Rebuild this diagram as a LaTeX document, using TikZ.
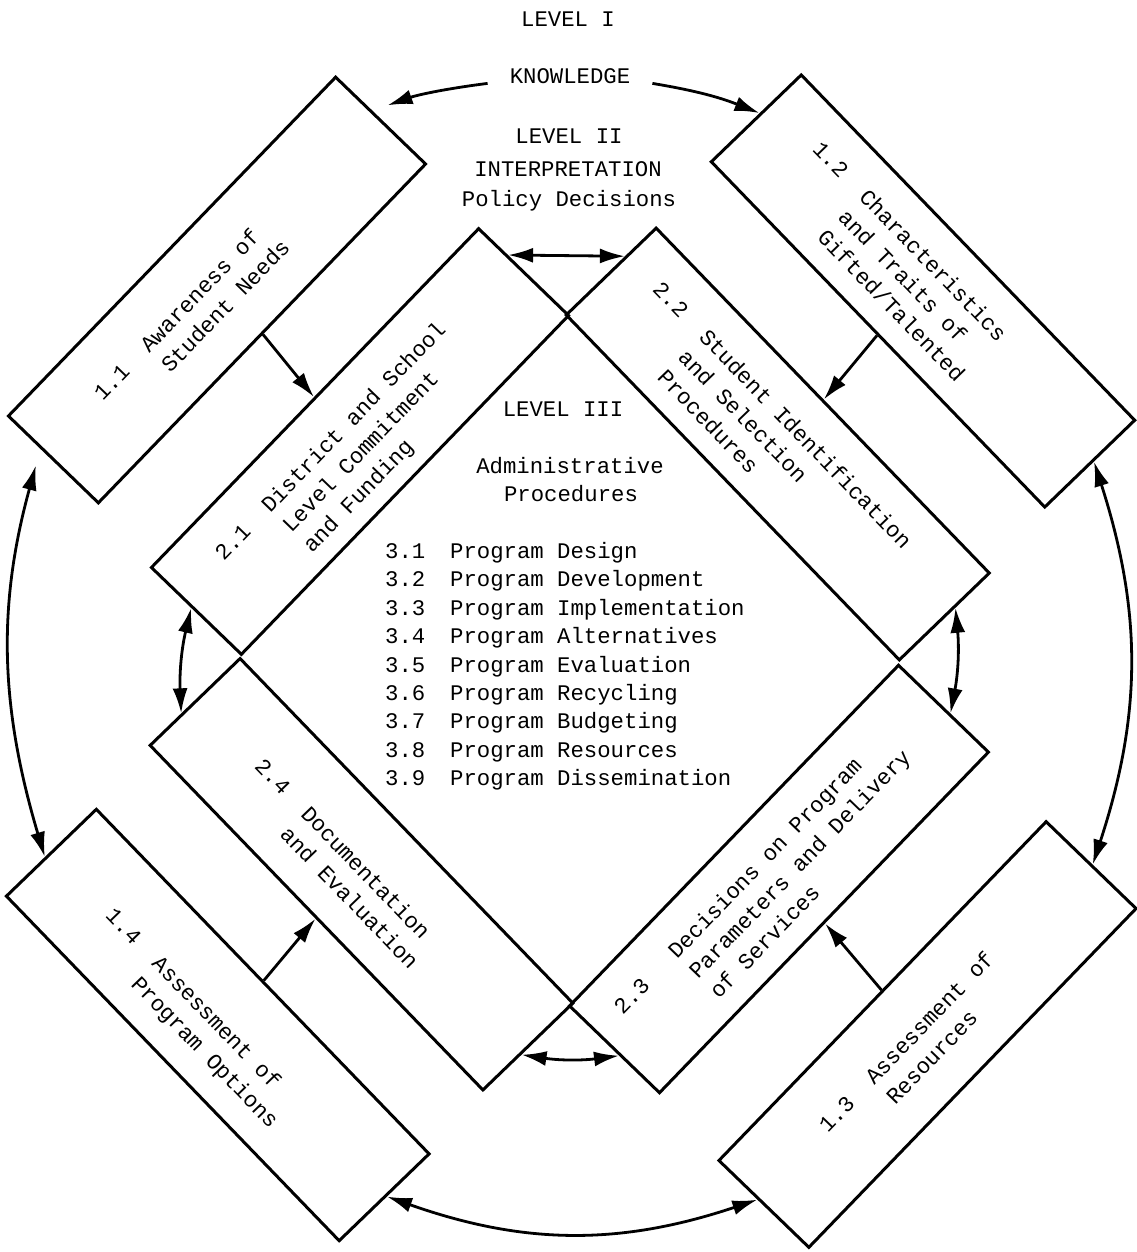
\documentclass[tikz,border=0pt]{standalone}
\usepackage{fontspec}
\setmainfont{Liberation Mono}
\setmonofont{Liberation Mono}
\usetikzlibrary{calc,arrows.meta}
\newcommand{\bxlabel}[3][3em]{\makebox[#1][l]{#2}\begin{tabular}[t]{@{}l@{}}#3\end{tabular}}
\begin{document}
\begin{tikzpicture}[x=1pt,y=-1pt,
 box/.style={draw, line width=3pt, inner sep=0pt, minimum height=125pt},
 txt/.style={font=\fontsize{22.3}{29}\selectfont, inner sep=0pt},
 lbl/.style={txt, anchor=base west},
 arr/.style={-{Latex[length=25pt,width=15pt]}, line width=2.8pt},
 darr/.style={{Latex[length=25pt,width=15pt]}-{Latex[length=25pt,width=15pt]}, line width=2.8pt}]
\useasboundingbox (0,0) rectangle (1136,1252);

% Level I boxes
\node[box, minimum width=471pt, rotate=46]  (b11) at (217,290) {};
\node[box, minimum width=480pt, rotate=-46] (b12) at (923,291) {};
\node[box, minimum width=471pt, rotate=46]  (b13) at (927.5,1034.5) {};
\node[box, minimum width=479pt, rotate=-46] (b14) at (217.75,1025) {};
% Level II boxes
\node[box, minimum width=471pt, rotate=46]  (b21) at (360,441.5) {};
\node[box, minimum width=479.5pt, rotate=-46] (b22) at (777.75,444) {};
\node[box, minimum width=473.5pt, rotate=46]  (b23) at (779,879) {};
\node[box, minimum width=479pt, rotate=-46] (b24) at (361.5,874.25) {};

% box labels
\node[lbl, rotate=46]  (t11) at (102.8,401.9) {\bxlabel{1.1}{Awareness of\\Student Needs}};
\node[lbl, rotate=-46] (t12) at (811.4,150.1) {\bxlabel{1.2}{Characteristics\\and Traits of\\Gifted/Talented}};
\node[lbl, rotate=46]  (t13) at (827.8,1133.9) {\bxlabel{1.3}{Assessment of\\Resources}};
\node[lbl, rotate=-46] (t14) at (104.4,916.6) {\bxlabel{1.4}{Assessment of\\Program Options}};
\node[lbl, rotate=46]  (t21) at (223.8,561.9) {\bxlabel{2.1}{District and School\\Level Commitment\\and Funding}};
\node[lbl, rotate=-46] (t22) at (651.4,290.1) {\bxlabel{2.2}{Student Identification\\and Selection\\Procedures}};
\node[lbl, rotate=46]  (t23) at (622.8,1015.9) {\bxlabel[3.5em]{2.3}{Decisions on Program\\Parameters and Delivery\\of Services}};
\node[lbl, rotate=-46] (t24) at (253.4,767.1) {\bxlabel{2.4}{Documentation\\and Evaluation}};

% central texts
\node[txt, anchor=base] (lv1) at (568,26.4) {LEVEL I};
\node[txt, anchor=base, inner xsep=22pt] (know) at (570,83.4) {KNOWLEDGE};
\node[txt, anchor=base] (lv2) at (569,143.4) {LEVEL II};
\node[txt, anchor=base] (interp) at (568,176.4) {INTERPRETATION};
\node[txt, anchor=base] (policy) at (569,206) {Policy Decisions};
\node[txt, anchor=base] (lv3) at (563,416) {LEVEL III};
\node[txt, anchor=base] (admin) at (570,473) {Administrative};
\node[txt, anchor=base] (proc) at (571,501.5) {Procedures};
\node[lbl, font=\fontsize{22.3}{28.4}\selectfont] (list) at (385,558.4) {\begin{tabular}[t]{@{}l@{}}
\makebox[65pt][l]{3.1}Program Design\\
\makebox[65pt][l]{3.2}Program Development\\
\makebox[65pt][l]{3.3}Program Implementation\\
\makebox[65pt][l]{3.4}Program Alternatives\\
\makebox[65pt][l]{3.5}Program Evaluation\\
\makebox[65pt][l]{3.6}Program Recycling\\
\makebox[65pt][l]{3.7}Program Budgeting\\
\makebox[65pt][l]{3.8}Program Resources\\
\makebox[65pt][l]{3.9}Program Dissemination
\end{tabular}};

% Level I -> Level II
\draw[arr] (b11.south) -- (b21.north);
\draw[arr] (b12.south) -- (b22.north);
\draw[arr] (b13.north) -- (b23.south);
\draw[arr] (b14.north) -- (b24.south);

% Level II links
\draw[darr] ($(b21.north east)!0.32!(b21.south east)$) -- ($(b22.north west)!0.34!(b22.south west)$);
\draw[darr] ($(b24.north east)!0.58!(b24.south east)$) to[bend right=8] ($(b23.north west)!0.56!(b23.south west)$);
\draw[darr] ($(b21.north west)!0.455!(b21.south west)$) to[bend right=8] ($(b24.north west)!0.64!(b24.south west)$);
\draw[darr] ($(b22.north east)!0.39!(b22.south east)$) to[bend left=8] ($(b23.north east)!0.565!(b23.south east)$);

% Level I links
\draw[darr, shorten <=17pt] ($(b11.north west)!0.37!(b11.south west)$) to[bend right=16] ($(b14.north west)!0.56!(b14.south west)$);
\draw[darr] ($(b12.north east)!0.465!(b12.south east)$) to[bend left=18] ($(b13.north east)!0.506!(b13.south east)$);
\draw[darr] ($(b14.north east)!0.48!(b14.south east)$) to[bend right=19] ($(b13.north west)!0.44!(b13.south west)$);

% knowledge arrows
\draw[arr, shorten >=16pt] (know.base west) to[bend right=6] ($(b11.north east)!0.40!(b11.south east)$);
\draw[arr] (know.base east) to[bend left=6] ($(b12.north west)!0.453!(b12.south west)$);
\end{tikzpicture}
\end{document}
